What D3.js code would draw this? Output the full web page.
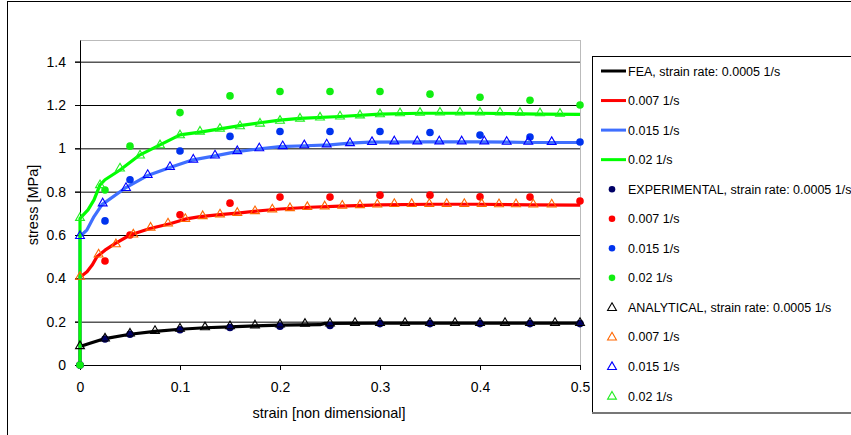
<!DOCTYPE html>
<html>
<head>
<meta charset="utf-8">
<script src="https://cdn.jsdelivr.net/npm/d3@7"></script>
<style>
body { margin: 0; background: #fff; }
svg { font-family: "Liberation Sans", Arial, sans-serif; }
.grid line { stroke: #000; stroke-width: 1; }
.grid path { display: none; }
.axis path, .axis line { stroke: #000; }
.axis text { font-size: 14px; fill: #000; }
</style>
</head>
<body>
<svg width="851" height="435"></svg>
<script>
// FEA curves (strain, stress)
var feaBlackX = [0, 0, 0.01, 0.025, 0.05, 0.075, 0.1, 0.125, 0.15, 0.175, 0.2, 0.24, 0.245, 0.3, 0.4, 0.5];
var feaBlackY = [0, 0.085, 0.1, 0.122, 0.142, 0.155, 0.165, 0.172, 0.176, 0.181, 0.184, 0.186, 0.192, 0.193, 0.193, 0.193];
var feaRedX = [0, 0, 0.007, 0.012, 0.017, 0.025, 0.035, 0.05, 0.07, 0.09, 0.105, 0.12, 0.14, 0.16, 0.18, 0.2, 0.23, 0.26, 0.3, 0.35, 0.4, 0.45, 0.5];
var feaRedY = [0, 0.405, 0.43, 0.46, 0.5, 0.53, 0.56, 0.6, 0.63, 0.652, 0.673, 0.685, 0.694, 0.702, 0.712, 0.72, 0.728, 0.733, 0.739, 0.742, 0.742, 0.739, 0.738];
var feaBlueX = [0, 0, 0.007, 0.014, 0.022, 0.045, 0.067, 0.09, 0.113, 0.135, 0.157, 0.18, 0.2, 0.225, 0.25, 0.27, 0.29, 0.35, 0.4, 0.45, 0.5];
var feaBlueY = [0, 0.593, 0.624, 0.685, 0.74, 0.816, 0.873, 0.911, 0.947, 0.965, 0.985, 0.998, 1.008, 1.012, 1.016, 1.024, 1.029, 1.03, 1.03, 1.027, 1.027];
var feaGreenX = [0, 0, 0.008, 0.014, 0.02, 0.025, 0.04, 0.06, 0.08, 0.1, 0.12, 0.14, 0.16, 0.18, 0.2, 0.22, 0.26, 0.3, 0.34, 0.4, 0.46, 0.5];
var feaGreenY = [0, 0.677, 0.716, 0.762, 0.831, 0.855, 0.9, 0.97, 1.016, 1.062, 1.075, 1.09, 1.105, 1.118, 1.13, 1.138, 1.147, 1.158, 1.162, 1.162, 1.158, 1.157];

// experimental points
var expX = [0, 0.025, 0.05, 0.1, 0.15, 0.2, 0.25, 0.3, 0.35, 0.4, 0.45, 0.5];
var expBlack = [0, 0.12, 0.142, 0.163, 0.173, 0.179, 0.182, 0.191, 0.191, 0.191, 0.191, 0.191];
var expRed = [0, 0.48, 0.6, 0.693, 0.747, 0.775, 0.775, 0.784, 0.784, 0.776, 0.775, 0.757];
var expBlue = [0, 0.665, 0.855, 0.988, 1.055, 1.078, 1.078, 1.078, 1.073, 1.061, 1.052, 1.029];
var expGreen = [0, 0.808, 1.01, 1.165, 1.242, 1.262, 1.262, 1.262, 1.25, 1.236, 1.222, 1.2];

// analytical points
var anaBlackX = [0, 0.025, 0.05, 0.075, 0.1, 0.125, 0.15, 0.175, 0.2, 0.225, 0.25, 0.275, 0.3, 0.325, 0.35, 0.375, 0.4, 0.425, 0.45, 0.475, 0.5];
var anaBlackY = [0.085, 0.12, 0.143, 0.155, 0.166, 0.172, 0.177, 0.181, 0.185, 0.188, 0.19, 0.192, 0.192, 0.192, 0.192, 0.192, 0.192, 0.192, 0.192, 0.192, 0.192];
var anaRedX = [0, 0.0186, 0.0359, 0.0533, 0.0706, 0.088, 0.1053, 0.1227, 0.14, 0.1573, 0.175, 0.1923, 0.21, 0.2273, 0.2447, 0.2623, 0.28, 0.2973, 0.3143, 0.3317, 0.3493, 0.3667, 0.3843, 0.4017, 0.419, 0.436, 0.4533, 0.4717];
var anaRedY = [0.405, 0.508, 0.555, 0.6, 0.632, 0.651, 0.672, 0.685, 0.693, 0.7, 0.708, 0.716, 0.722, 0.727, 0.73, 0.733, 0.736, 0.739, 0.741, 0.741, 0.741, 0.741, 0.741, 0.741, 0.74, 0.74, 0.739, 0.739];
var anaBlueX = [0, 0.0227, 0.046, 0.0677, 0.09, 0.1133, 0.135, 0.1573, 0.1793, 0.2027, 0.2243, 0.2467, 0.27, 0.292, 0.3143, 0.3373, 0.3593, 0.3817, 0.4043, 0.4267, 0.4483, 0.4717];
var anaBlueY = [0.593, 0.744, 0.815, 0.875, 0.912, 0.946, 0.965, 0.985, 0.998, 1.008, 1.012, 1.016, 1.022, 1.027, 1.03, 1.03, 1.03, 1.03, 1.03, 1.028, 1.028, 1.027];
var anaGreenX = [0, 0.02, 0.04, 0.06, 0.08, 0.1, 0.12, 0.14, 0.16, 0.18, 0.2, 0.22, 0.24, 0.26, 0.28, 0.3, 0.32, 0.34, 0.36, 0.38, 0.4, 0.42, 0.44, 0.46, 0.48];
var anaGreenY = [0.677, 0.828, 0.905, 0.965, 1.012, 1.058, 1.075, 1.088, 1.1, 1.112, 1.125, 1.135, 1.14, 1.145, 1.15, 1.155, 1.16, 1.162, 1.163, 1.163, 1.163, 1.163, 1.162, 1.16, 1.158];

var xTicks = [0, 0.1, 0.2, 0.3, 0.4, 0.5];
var yTicks = [0, 0.2, 0.4, 0.6, 0.8, 1, 1.2, 1.4];

var legendLabels = ["FEA, strain rate: 0.0005 1/s", "0.007 1/s", "0.015 1/s", "0.02 1/s",
	"EXPERIMENTAL, strain rate: 0.0005 1/s", "0.007 1/s", "0.015 1/s", "0.02 1/s",
	"ANALYTICAL, strain rate: 0.0005 1/s", "0.007 1/s", "0.015 1/s", "0.02 1/s"];

var lineColors = ["#000000", "#ff0000", "#3f6fff", "#00ff00"];
var dotColors = ["#000066", "#ff0000", "#0033ee", "#11ee11"];
var triColors = ["#000000", "#ff6600", "#0000ff", "#22ee22"];

function zip(xs, ys) { return xs.map(function(x, i) { return {x: x, y: ys[i]}; }); }

var fea = [zip(feaBlackX, feaBlackY), zip(feaRedX, feaRedY), zip(feaBlueX, feaBlueY), zip(feaGreenX, feaGreenY)];
var exp = [zip(expX, expBlack), zip(expX, expRed), zip(expX, expBlue), zip(expX, expGreen)];
var ana = [zip(anaBlackX, anaBlackY), zip(anaRedX, anaRedY), zip(anaBlueX, anaBlueY), zip(anaGreenX, anaGreenY)];

var margin = {top: 40, left: 80};
var width = 500, height = 325;

var x = d3.scaleLinear().domain([0, 0.5]).range([0, width]);
var y = d3.scaleLinear().domain([0, 1.5]).range([height, 0]);

var svg = d3.select("svg");

// outer chart border
svg.append("rect").attr("x", 7.5).attr("y", 1.5).attr("width", 900).attr("height", 500)
	.attr("fill", "none").attr("stroke", "#000");

var g = svg.append("g").attr("transform", "translate(" + margin.left + "," + margin.top + ")");

// plot area frame
g.append("rect").attr("x", 0.5).attr("y", 0.5).attr("width", width).attr("height", height)
	.attr("fill", "none").attr("stroke", "#bbb");

// grid lines
g.append("g").attr("class", "grid")
	.call(d3.axisLeft(y).tickValues(yTicks.slice(1)).tickSize(-width - 5).tickFormat(""))
	.attr("transform", "translate(-5,0)");

// axes
g.append("g").attr("class", "axis").attr("transform", "translate(0," + height + ")")
	.call(d3.axisBottom(x).tickValues(xTicks).tickSize(5).tickPadding(12).tickFormat(d3.format("")))
	.select(".domain").attr("d", "M0.5,0.5H" + width);
g.append("g").attr("class", "axis")
	.call(d3.axisLeft(y).tickValues(yTicks).tickSize(5).tickPadding(9).tickFormat(d3.format("")))
	.select(".domain").attr("d", "M0.5,0.5V" + height);
g.selectAll(".axis .tick text").attr("font-family", "Liberation Sans, Arial, sans-serif");

// axis titles
svg.append("text").attr("x", 329).attr("y", 418).attr("text-anchor", "middle")
	.attr("font-size", "14.5px").text("strain [non dimensional]");
svg.append("text").attr("transform", "translate(38,205) rotate(-90)").attr("text-anchor", "middle")
	.attr("font-size", "14.5px").text("stress [MPa]");

// FEA lines
var line = d3.line().x(function(d) { return x(d.x); }).y(function(d) { return y(d.y); });
g.selectAll(".fea").data(fea).enter().append("path").attr("class", "fea")
	.attr("d", line).attr("fill", "none")
	.attr("stroke", function(d, i) { return lineColors[i]; })
	.attr("stroke-width", 3.2).attr("stroke-linejoin", "round");

// experimental dots
exp.forEach(function(s, i) {
	g.selectAll(".exp" + i).data(s).enter().append("circle").attr("class", "exp" + i)
		.attr("cx", function(d) { return x(d.x); }).attr("cy", function(d) { return y(d.y); })
		.attr("r", 3.8).attr("fill", dotColors[i]);
});

// analytical triangles
var tri = d3.symbol().type(d3.symbolTriangle).size(34);
ana.forEach(function(s, i) {
	g.selectAll(".ana" + i).data(s).enter().append("path").attr("class", "ana" + i)
		.attr("d", tri)
		.attr("transform", function(d) { return "translate(" + x(d.x) + "," + (y(d.y) - 0.5) + ")"; })
		.attr("fill", "none").attr("stroke", triColors[i]).attr("stroke-width", 1.1);
});

// legend
var lg = svg.append("g");
lg.append("rect").attr("x", 592.5).attr("y", 56.5).attr("width", 400).attr("height", 356)
	.attr("fill", "#fff").attr("stroke", "#000");
lg.append("line").attr("x1", 592).attr("x2", 851).attr("y1", 413).attr("y2", 413)
	.attr("stroke", "#777").attr("stroke-width", 2);

var items = lg.selectAll(".item").data(legendLabels).enter().append("g")
	.attr("transform", function(d, i) { return "translate(0," + (71 + i * 29.55) + ")"; });
items.append("text").attr("x", 628).attr("y", 4.5).attr("font-size", "12.5px").text(function(d) { return d; });
items.filter(function(d, i) { return i < 4; }).append("line")
	.attr("x1", 601).attr("x2", 626).attr("stroke-width", 3)
	.attr("stroke", function(d, i) { return lineColors[i]; });
items.filter(function(d, i) { return i >= 4 && i < 8; }).append("circle")
	.attr("cx", 612).attr("r", 3.3)
	.attr("fill", function(d, i) { return dotColors[i]; });
items.filter(function(d, i) { return i >= 8; }).append("path")
	.attr("d", tri).attr("transform", "translate(612,0.5)")
	.attr("fill", "none").attr("stroke-width", 1.1)
	.attr("stroke", function(d, i) { return triColors[i]; });
</script>
</body>
</html>
